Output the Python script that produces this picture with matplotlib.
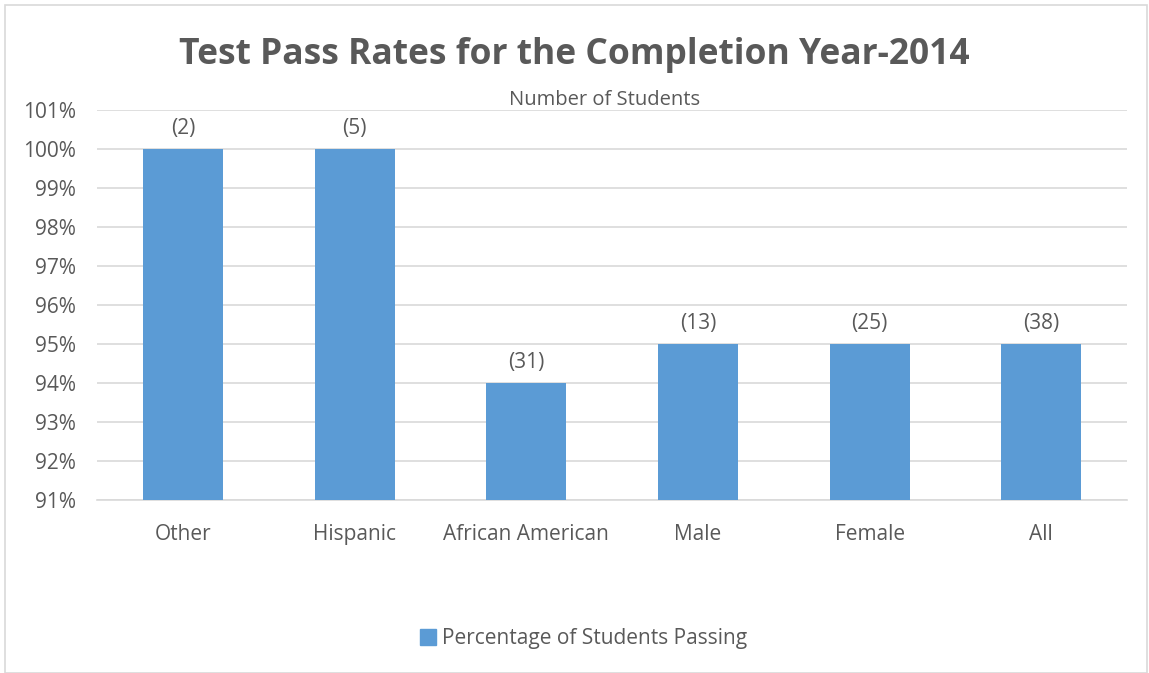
import matplotlib
matplotlib.use("Agg")
import matplotlib.pyplot as plt
from matplotlib.patches import Rectangle, Patch
from matplotlib.ticker import FuncFormatter, MultipleLocator

categories = ["Other", "Hispanic", "African American", "Male", "Female", "All"]
pass_rates = [100, 100, 94, 95, 95, 95]
student_counts = [2, 5, 31, 13, 25, 38]

plt.rcParams['font.family'] = ['Open Sans', 'DejaVu Sans']
TXT = "#595959"
BAR = "#5B9BD5"

fig = plt.figure(figsize=(11.49, 6.73), dpi=100)
ax = fig.add_axes([0.0844, 0.257, 0.8966, 0.5794])

x = range(len(categories))
ax.bar(x, pass_rates, width=0.466, color=BAR, zorder=3, bottom=0)
ax.set_ylim(91, 101)
ax.set_xlim(-0.5, len(categories) - 0.5)
ax.yaxis.set_major_locator(MultipleLocator(1))
ax.yaxis.set_major_formatter(FuncFormatter(lambda v, p: f"{int(round(v))}%"))
ax.grid(axis="y", color="#D9D9D9", linewidth=1.2, zorder=0)
for s in ["top", "right", "left"]:
    ax.spines[s].set_visible(False)
ax.spines["bottom"].set_color("#D9D9D9")
ax.spines["bottom"].set_linewidth(1.2)
ax.tick_params(axis="both", length=0, labelsize=15, colors=TXT)
ax.tick_params(axis="x", pad=17)
ax.tick_params(axis="y", pad=15)
ax.set_xticks(list(x))
ax.set_xticklabels(categories)

for xi, v, n in zip(x, pass_rates, student_counts):
    ax.annotate(f"({n})", (xi, v), xytext=(0, 7), textcoords="offset points",
                ha="center", va="bottom", fontsize=15, color=TXT)

fig.text(0.5, 0.918, "Test Pass Rates for the Completion Year-2014", ha="center",
         va="center", fontsize=25.5, fontweight="bold", color=TXT)
fig.text(0.526, 0.851, "Number of Students",
         ha="center", va="center", fontsize=14.5, color=TXT)

fig.legend(handles=[Patch(color=BAR)], labels=["Percentage of Students Passing"],
           loc="center", bbox_to_anchor=(0.508, 0.051), frameon=False,
           fontsize=15, labelcolor=TXT, handlelength=0.75, handleheight=0.75,
           handletextpad=0.3)

fig.patches.append(Rectangle((0.004, 0.0), 0.994, 0.992, transform=fig.transFigure,
                             fill=False, edgecolor="#D9D9D9", linewidth=1.2))

fig.savefig("out.png", dpi=100)
